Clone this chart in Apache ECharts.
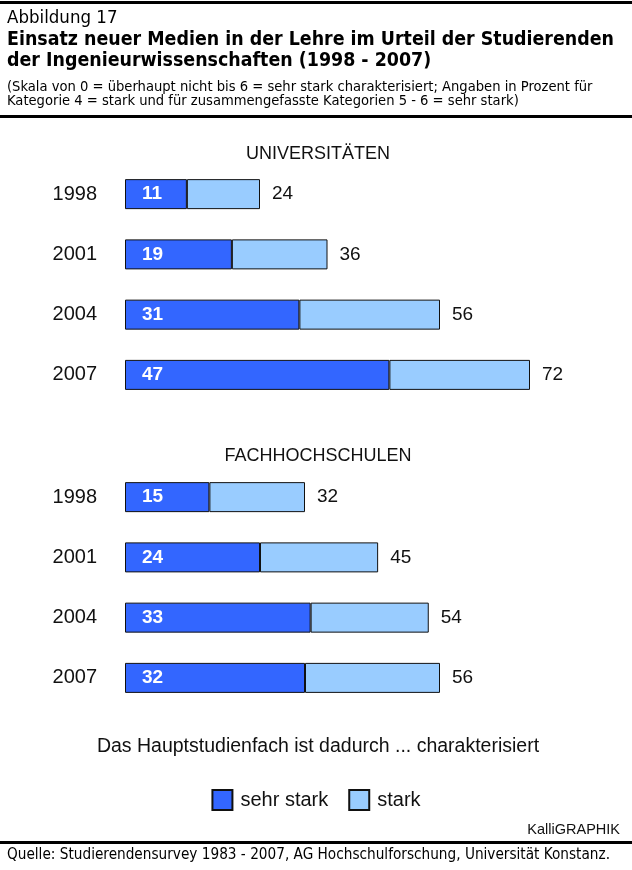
<!DOCTYPE html>
<html><head><meta charset="utf-8">
<script src="https://cdn.jsdelivr.net/npm/echarts@6/dist/echarts.min.js"></script>
<style>html,body{margin:0;padding:0;background:#fff}#c{width:632px;height:870px}</style>
</head><body><div id="c"></div>
<script>
const years = ['1998','2001','2004','2007'];
const uniSehrStark = [11, 19, 31, 47];
const uniGesamt = [24, 36, 56, 72];
const fhSehrStark = [15, 24, 33, 32];
const fhGesamt = [32, 45, 54, 56];
const sectionNames = ['UNIVERSITÄTEN', 'FACHHOCHSCHULEN'];
const legendNames = ['sehr stark', 'stark'];

const DARK = '#3366ff', LIGHT = '#99ccff';
const hFont = '"Liberation Sans Narrow","DejaVu Sans Condensed","Open Sans",sans-serif';
const aFont = '"Liberation Sans",Arial,sans-serif';

function diff(tot, base){ return tot.map((t,i)=>t-base[i]); }

const chart = echarts.init(document.getElementById('c'), null, {renderer:'canvas'});
const grids = [
  {left:125, width:450, top:164, height:241},
  {left:125, width:450, top:467, height:241}
];
const sets = [[uniSehrStark, uniGesamt],[fhSehrStark, fhGesamt]];
const series = [];
sets.forEach((s, gi) => {
  series.push({
    name: legendNames[0], type:'bar', stack:'s'+gi, xAxisIndex:gi, yAxisIndex:gi,
    barWidth:30, data:s[0],
    itemStyle:{color:DARK, borderColor:'#111', borderWidth:1},
    label:{show:true, position:'insideLeft', distance:17, color:'#fff', fontWeight:'bold', fontSize:19, fontFamily:aFont},
    emphasis:{disabled:true}
  });
  series.push({
    name: legendNames[1], type:'bar', stack:'s'+gi, xAxisIndex:gi, yAxisIndex:gi,
    barWidth:30, data:diff(s[1], s[0]),
    itemStyle:{color:LIGHT, borderColor:'#111', borderWidth:1},
    label:{show:true, position:'right', distance:12, color:'#111', fontSize:19, fontFamily:aFont,
      formatter: p => s[1][p.dataIndex]},
    emphasis:{disabled:true}
  });
});

chart.setOption({
  animation:false,
  grid: grids,
  xAxis: grids.map((g,i)=>({gridIndex:i, type:'value', min:0, max:80, show:false})),
  yAxis: grids.map((g,i)=>({gridIndex:i, type:'category', data:years, inverse:true,
    axisLine:{show:false}, axisTick:{show:false}, splitLine:{show:false},
    axisLabel:{margin:28, fontSize:20, color:'#111', fontFamily:aFont}})),
  legend:{data:legendNames, left:'center', top:784, itemWidth:20, itemHeight:20, itemGap:20,
    icon:'rect', textStyle:{fontSize:20, color:'#111', fontFamily:aFont, padding:[0,0,0,3]}, selectedMode:false},
  series: series,
  graphic:[
    {type:'rect', shape:{x:0,y:1,width:632,height:3}, style:{fill:'#000'}},
    {type:'text', left:7, top:9, style:{text:'Abbildung 17', font:'18.5px '+hFont, fill:'#000'}},
    {type:'text', left:7, top:30, style:{text:'Einsatz neuer Medien in der Lehre im Urteil der Studierenden', font:'bold 19.4px '+hFont, fill:'#000'}},
    {type:'text', left:7, top:51, style:{text:'der Ingenieurwissenschaften (1998 - 2007)', font:'bold 19.4px '+hFont, fill:'#000'}},
    {type:'text', left:7, top:80, style:{text:'(Skala von 0 = überhaupt nicht bis 6 = sehr stark charakterisiert; Angaben in Prozent für', font:'14.6px '+hFont, fill:'#000'}},
    {type:'text', left:7, top:94, style:{text:'Kategorie 4 = stark und für zusammengefasste Kategorien 5 - 6 = sehr stark)', font:'14.6px '+hFont, fill:'#000'}},
    {type:'rect', shape:{x:0,y:115,width:632,height:3}, style:{fill:'#000'}},
    {type:'text', x:318, y:154, style:{text:sectionNames[0], font:'18px '+aFont, fill:'#111', align:'center', verticalAlign:'middle'}},
    {type:'text', x:318, y:456, style:{text:sectionNames[1], font:'18px '+aFont, fill:'#111', align:'center', verticalAlign:'middle'}},
    {type:'text', x:318, y:747, style:{text:'Das Hauptstudienfach ist dadurch ... charakterisiert', font:'19.5px '+aFont, fill:'#111', align:'center', verticalAlign:'middle'}},
    {type:'text', x:620, y:830, style:{text:'KalliGRAPHIK', font:'14.5px '+aFont, fill:'#111', align:'right', verticalAlign:'middle'}},
    {type:'rect', shape:{x:0,y:841,width:632,height:3}, style:{fill:'#000'}},
    {type:'text', left:7, top:848, style:{text:'Quelle: Studierendensurvey 1983 - 2007, AG Hochschulforschung, Universität Konstanz.', font:'15.2px '+hFont, fill:'#000'}}
  ]
});
</script></body></html>
